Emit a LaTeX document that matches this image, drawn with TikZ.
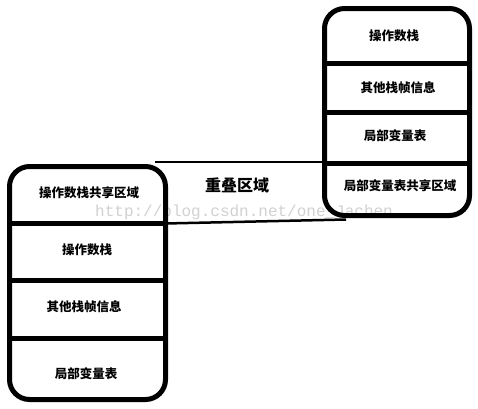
\documentclass[tikz,border=0pt]{standalone}
\usepackage{fontspec}
\newfontfamily\cjk{Noto Sans CJK SC}
\newfontfamily\wm{Liberation Mono}
\begin{document}
\begin{tikzpicture}[x=1pt,y=-1pt,
  frame/.style={draw=black,line width=5pt,rounded corners=20pt},
  sep/.style={draw=black,line width=5pt},
  thin/.style={draw=black,line width=2.5pt},
  lbl/.style={font=\cjk\bfseries\fontsize{12.5}{14}\selectfont,inner sep=0pt},
  big/.style={font=\cjk\bfseries\fontsize{16}{18}\selectfont,inner sep=0pt},
  wmark/.style={font=\wm\fontsize{16}{18}\selectfont,text=black!18,inner sep=0pt}]
\useasboundingbox (0,0) rectangle (478,408);
\fill[white] (0,0) rectangle (478,408);
% corner coordinates
\coordinate (lnw) at (9.5,166.5);
\coordinate (lse) at (165.5,399.5);
\coordinate (rnw) at (324.5,8.5);
\coordinate (rse) at (469.5,215.5);
% overlap lines
\coordinate (otl) at (155,162);
\coordinate (otr) at (324,162);
\coordinate (obl) at (165,223.5);
\coordinate (obr) at (346,219.5);
\draw[thin] (otl) -- (otr);
\draw[thin] (obl) -- (obr);
% watermark
\node[wmark,anchor=west] (wmk) at (95,212) {http://blog.csdn.net/one\_Jachen};
% left stack
\draw[frame] (lnw) rectangle (lse);
\coordinate (l1a) at (9.5,223); \coordinate (l1b) at (165.5,223);
\coordinate (l2a) at (9.5,280); \coordinate (l2b) at (165.5,280);
\coordinate (l3a) at (9.5,338); \coordinate (l3b) at (165.5,338);
\draw[sep] (l1a) -- (l1b);
\draw[sep] (l2a) -- (l2b);
\draw[sep] (l3a) -- (l3b);
\node[lbl] (la) at (89,193) {操作数栈共享区域};
\node[lbl] (lb) at (87,250) {操作数栈};
\node[lbl] (lc) at (84,307) {其他栈帧信息};
\node[lbl] (ld) at (86,374) {局部变量表};
% right stack
\draw[frame] (rnw) rectangle (rse);
\coordinate (r1a) at (324.5,63.5); \coordinate (r1b) at (469.5,63.5);
\coordinate (r2a) at (324.5,112); \coordinate (r2b) at (469.5,112);
\coordinate (r3a) at (324.5,163); \coordinate (r3b) at (469.5,163);
\draw[sep] (r1a) -- (r1b);
\draw[sep] (r2a) -- (r2b);
\draw[sep] (r3a) -- (r3b);
\node[lbl] (ra) at (394,36) {操作数栈};
\node[lbl] (rb) at (398,88) {其他栈帧信息};
\node[lbl] (rc) at (395,136) {局部变量表};
\node[lbl] (rd) at (400,186) {局部变量表共享区域};
% overlap label
\node[big] (ov) at (237,185) {重叠区域};
\end{tikzpicture}
\end{document}
